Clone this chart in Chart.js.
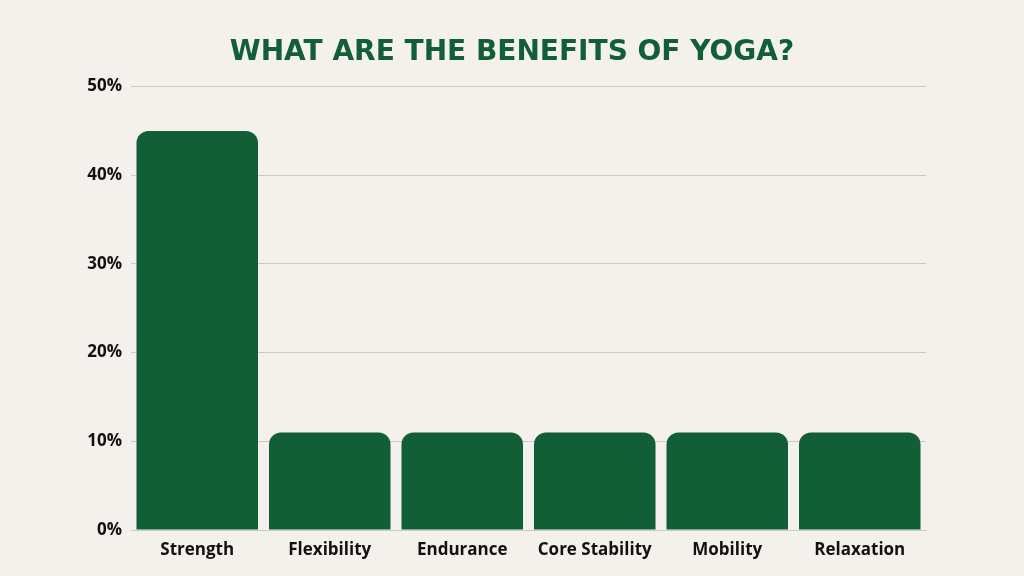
<!DOCTYPE html>
<html>
<head>
<meta charset="utf-8">
<script src="https://cdn.jsdelivr.net/npm/chart.js@4.4.1/dist/chart.umd.min.js"></script>
<style>
  html, body { margin: 0; padding: 0; background: #f4f1ec; }
  canvas { display: block; }
</style>
</head>
<body>
<canvas id="myChart" width="1024" height="576"></canvas>
<script>
const categories = ["Strength", "Flexibility", "Endurance", "Core Stability", "Mobility", "Relaxation"];
const shares = [45, 11, 11, 11, 11, 11];
const yTicks = [0, 10, 20, 30, 40, 50];

const ctx = document.getElementById("myChart");

new Chart(ctx, {
  type: "bar",
  data: {
    labels: categories,
    datasets: [
      {
        label: "Share %",
        data: shares,
        backgroundColor: "#115e37",
        borderRadius: { topLeft: 12, topRight: 12, bottomLeft: 0, bottomRight: 0 },
        borderSkipped: "bottom",
        barPercentage: 0.917,
        categoryPercentage: 1,
      },
    ],
  },
  options: {
    responsive: false,
    animation: false,
    layout: { padding: { top: 36, right: 0, bottom: 0, left: 0 } },
    plugins: {
      legend: { display: false },
      tooltip: { enabled: false },
      title: {
        display: true,
        text: "WHAT ARE THE BENEFITS OF YOGA?",
        color: "#115e37",
        font: { family: "'DejaVu Sans'", size: 28, weight: "bold" },
        padding: { top: 0, bottom: 17 },
      },
    },
    scales: {
      x: {
        grid: { display: false },
        border: { color: "#cfcbc4" },
        ticks: {
          color: "#111111",
          font: { family: "'Open Sans'", size: 17, weight: "bold" },
          padding: 2,
        },
        afterFit: (scale) => { scale.height = 46; },
      },
      y: {
        min: 0,
        max: 50,
        afterBuildTicks: (scale) => {
          //Use the tick values from the picture
          scale.ticks = yTicks.map((v) => ({ value: v }));
        },
        grid: { color: "#cfcbc4", drawTicks: false },
        border: { display: false },
        ticks: {
          color: "#111111",
          font: { family: "'Open Sans'", size: 17, weight: "bold" },
          padding: 9,
          callback: (value) => `${value}%`,
        },
        afterFit: (scale) => { scale.width = 131; },
      },
      //Empty right axis, only keeps the right margin so the title stays centred
      yRight: {
        position: "right",
        min: 0,
        max: 50,
        grid: { display: false },
        border: { display: false },
        ticks: { display: false },
        afterFit: (scale) => { scale.width = 98; },
      },
    },
  },
});
</script>
</body>
</html>
